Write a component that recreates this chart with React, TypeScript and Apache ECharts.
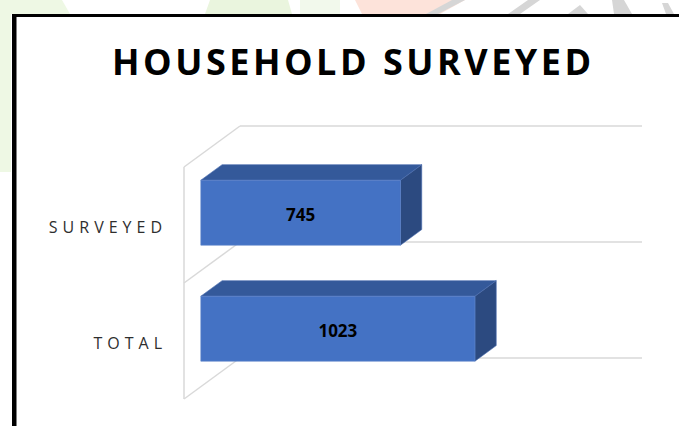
import React, { useEffect, useRef } from 'react';
import * as echarts from 'echarts';

const categories = ['TOTAL', 'SURVEYED'];
const values = [1023, 745];
const titleText = 'HOUSEHOLD SURVEYED';
const valueMax = 1500;

export default function App() {
  const ref = useRef<HTMLDivElement>(null);

  useEffect(() => {
    document.body.style.margin = '0';
    const chart = echarts.init(ref.current!, null, { renderer: 'svg' });
    const DX = 56;
    const DY = 41;
    const proj = (p: number[], d: number) => [p[0] - (1 - d) * DX, p[1] + (1 - d) * DY];
    const wallColor = '#d9d9d9';
    const data = values.map((v, i) => [v, i]);

    const option: any = {
      animation: false,
      backgroundColor: '#ffffff',
      title: {
        text: titleText,
        left: 112,
        top: 43,
        padding: 0,
        textStyle: {
          fontFamily: 'Open Sans',
          fontWeight: 'bold',
          fontSize: 36,
          lineHeight: 36,
          color: '#000000',
        },
      },
      graphic: [
        { type: 'rect', silent: true, shape: { x: 0, y: 0, width: 11, height: 172 }, style: { fill: '#eef8e4' } },
        { type: 'polygon', silent: true, shape: { points: [[0, 0], [62, 0], [70, 14], [0, 14]] }, style: { fill: '#eef8e4' } },
        { type: 'polygon', silent: true, shape: { points: [[210, 0], [288, 0], [292, 14], [205, 14]] }, style: { fill: '#eaf5de' } },
        { type: 'polygon', silent: true, shape: { points: [[300, 0], [340, 0], [340, 14], [300, 14]] }, style: { fill: '#f2f9ec' } },
        { type: 'polygon', silent: true, shape: { points: [[355, 0], [465, 0], [440, 14], [362, 14]] }, style: { fill: '#fde3da' } },
        { type: 'polygon', silent: true, shape: { points: [[452, 0], [465, 0], [438, 14], [426, 14]] }, style: { fill: '#d6d6d6' } },
        { type: 'polygon', silent: true, shape: { points: [[528, 0], [540, 0], [520, 14], [508, 14]] }, style: { fill: '#d6d6d6' } },
        { type: 'polygon', silent: true, shape: { points: [[580, 5], [588, 14], [568, 14]] }, style: { fill: '#d6d6d6' } },
        { type: 'polygon', silent: true, shape: { points: [[612, 0], [624, 0], [632, 14], [614, 14]] }, style: { fill: '#d6d6d6' } },
        { type: 'polygon', silent: true, shape: { points: [[662, 3], [668, 3], [674, 14], [666, 14]] }, style: { fill: '#d6d6d6' } },
        { type: 'rect', silent: true, shape: { x: 12, y: 14, width: 667, height: 3 }, style: { fill: '#000000' } },
        { type: 'rect', silent: true, shape: { x: 12, y: 14, width: 4.5, height: 412 }, style: { fill: '#000000' } },
      ],
      grid: { left: 240, top: 126, right: 37, bottom: 68 },
      xAxis: {
        type: 'value',
        min: 0,
        max: valueMax,
        show: false,
        splitLine: { show: false },
      },
      yAxis: {
        type: 'category',
        data: categories,
        axisLine: { show: false },
        axisTick: { show: false },
        axisLabel: { show: false },
        splitLine: { show: false },
      },
      series: [
        {
          type: 'custom',
          name: 'walls',
          z: 1,
          silent: true,
          data,
          encode: { x: 0, y: 1 },
          renderItem: (params: any, api: any) => {
            const idx = api.value(1);
            const c0 = api.coord([0, idx]);
            const cm = api.coord([valueMax, idx]);
            const bandH = api.size([0, 1])[1];
            const top = c0[1] - bandH / 2;
            const bot = c0[1] + bandH / 2;
            const ls = { stroke: wallColor, lineWidth: 1.5 };
            const children: any[] = [];
            const fTop = proj([c0[0], top], 0);
            const fBot = proj([c0[0], bot], 0);
            children.push({ type: 'line', shape: { x1: fTop[0], y1: fTop[1], x2: fBot[0], y2: fBot[1] }, style: ls });
            children.push({ type: 'line', shape: { x1: fTop[0], y1: fTop[1], x2: c0[0], y2: top }, style: ls });
            children.push({ type: 'line', shape: { x1: c0[0], y1: top, x2: cm[0], y2: top }, style: ls });
            if (params.dataIndex === 0) {
              children.push({ type: 'line', shape: { x1: fBot[0], y1: fBot[1], x2: c0[0], y2: bot }, style: ls });
              children.push({ type: 'line', shape: { x1: c0[0], y1: bot, x2: cm[0], y2: bot }, style: ls });
            }
            return { type: 'group', children };
          },
        },
        {
          type: 'custom',
          name: 'bars',
          z: 2,
          data,
          encode: { x: 0, y: 1 },
          renderItem: (params: any, api: any) => {
            const v = api.value(0);
            const idx = api.value(1);
            const c0 = api.coord([0, idx]);
            const c1 = api.coord([v, idx]);
            const bandH = api.size([0, 1])[1];
            const h = bandH * 0.56;
            const yT = c0[1] - h / 2;
            const yB = c0[1] + h / 2;
            const d1 = 0.3;
            const d2 = 0.68;
            const fTL = proj([c0[0], yT], d1);
            const fTR = proj([c1[0], yT], d1);
            const fBR = proj([c1[0], yB], d1);
            const fBL = proj([c0[0], yB], d1);
            const bTL = proj([c0[0], yT], d2);
            const bTR = proj([c1[0], yT], d2);
            const bBR = proj([c1[0], yB], d2);
            const lab = proj([c0[0], c0[1]], 0);
            return {
              type: 'group',
              children: [
                { type: 'polygon', shape: { points: [fTL, fTR, bTR, bTL] }, style: { fill: '#34599a', stroke: '#4a6db0', lineWidth: 0.6 } },
                { type: 'polygon', shape: { points: [fTR, bTR, bBR, fBR] }, style: { fill: '#2c4a80', stroke: '#4a6db0', lineWidth: 0.6 } },
                { type: 'polygon', shape: { points: [fTL, fTR, fBR, fBL] }, style: { fill: '#4472c4', stroke: '#5b82c8', lineWidth: 0.6 } },
                {
                  type: 'text',
                  style: {
                    text: String(v),
                    x: (fTL[0] + fTR[0]) / 2,
                    y: (fTL[1] + fBL[1]) / 2 + 1.5,
                    align: 'center',
                    verticalAlign: 'middle',
                    fontFamily: 'Open Sans',
                    fontWeight: 'bold',
                    fontSize: 17,
                    fill: '#000000',
                  },
                },
                {
                  type: 'text',
                  style: {
                    text: categories[idx],
                    x: lab[0] - 22 + 5,
                    y: lab[1] + 2,
                    align: 'right',
                    verticalAlign: 'middle',
                    fontFamily: 'Open Sans',
                    fontSize: 16,
                    fill: '#2e2e2e',
                  },
                },
              ],
            };
          },
        },
      ],
    };
    chart.setOption(option);

    const applySpacing = () => {
      const texts = ref.current?.querySelectorAll('text');
      texts?.forEach((t) => {
        const s = (t.textContent || '').trim();
        if (s === titleText) t.setAttribute('letter-spacing', '3.5');
        else if (categories.includes(s)) t.setAttribute('letter-spacing', '5');
      });
    };
    applySpacing();
    chart.on('finished', applySpacing);
    const timer = setTimeout(applySpacing, 50);

    return () => {
      clearTimeout(timer);
      chart.dispose();
    };
  }, []);

  return <div ref={ref} style={{ width: 679, height: 426 }} />;
}
